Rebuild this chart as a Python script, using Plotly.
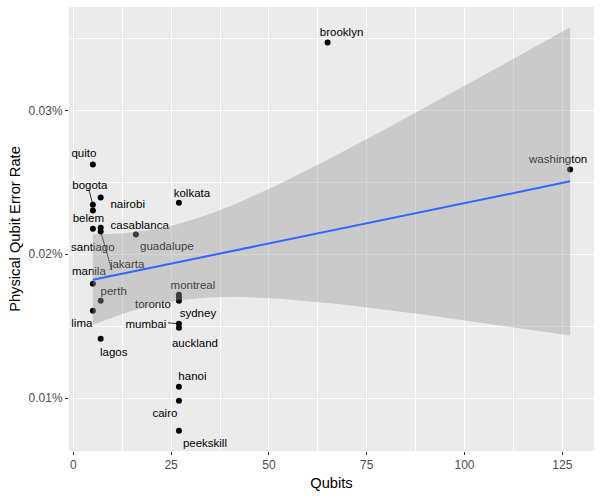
import numpy as np
import plotly.graph_objects as go

# IBM backends: qubit count vs. physical qubit error rate
backends = ["brooklyn", "washington", "quito", "bogota", "belem", "santiago", "manila", "lima",
            "nairobi", "casablanca", "jakarta", "perth", "lagos", "guadalupe",
            "kolkata", "montreal", "toronto", "sydney", "mumbai", "auckland",
            "hanoi", "cairo", "peekskill"]
qubits = [65, 127, 5, 5, 5, 5, 5, 5,
          7, 7, 7, 7, 7, 16,
          27, 27, 27, 27, 27, 27,
          27, 27, 27]
error_rate = [0.0003472, 0.0002588, 0.0002623, 0.0002344, 0.0002303, 0.0002177, 0.0001794, 0.0001607,
              0.0002393, 0.0002184, 0.0002157, 0.0001676, 0.0001412, 0.0002136,
              0.0002358, 0.0001718, 0.0001697, 0.0001676, 0.0001516, 0.0001489,
              0.0001078, 0.0000981, 0.0000772]

# label placement (pixel offsets from the point, right / down), like ggrepel did it
label_offset = {
    "brooklyn": (14, -9), "washington": (-12, -9), "quito": (-9, -10), "bogota": (-3, -19),
    "belem": (-4.5, 9), "santiago": (0, 19), "manila": (-4, -12), "lima": (-11, 13),
    "nairobi": (27, 8), "casablanca": (39, -2), "jakarta": (26.5, 34), "perth": (13, -9),
    "lagos": (13, 14), "guadalupe": (31, 13), "kolkata": (13, -9), "montreal": (14, -9),
    "toronto": (-26, 7), "sydney": (19, 13), "mumbai": (-33, 1), "auckland": (16, 16),
    "hanoi": (13.5, -10), "cairo": (-14, 13), "peekskill": (26, 13),
}
# leader segments end points (pixel offsets from the point)
leader_offset = {"bogota": (-4, -15), "jakarta": (11, 38), "mumbai": (-11, -1)}

W, H = 600, 500
margin = dict(l=69, r=6, t=7, b=49)
plot_w = W - margin["l"] - margin["r"]
plot_h = H - margin["t"] - margin["b"]

# linear fit with 95% confidence band (geom_smooth(method = "lm"))
x = np.array(qubits, dtype=float)
y = np.array(error_rate)
n = len(x)
b1, b0 = np.polyfit(x, y, 1)
xs = np.linspace(x.min(), x.max(), 80)
fit = b0 + b1 * xs
resid = y - (b0 + b1 * x)
s = np.sqrt((resid ** 2).sum() / (n - 2))
se = s * np.sqrt(1 / n + (xs - x.mean()) ** 2 / ((x - x.mean()) ** 2).sum())
t975 = 2.0796  # qt(0.975, df = 21)
lo, hi = fit - t975 * se, fit + t975 * se

xspan = x.max() - x.min()
xrange = [x.min() - 0.05 * xspan, x.max() + 0.05 * xspan]
ymin, ymax = min(y.min(), lo.min()), max(y.max(), hi.max())
yspan = ymax - ymin
yrange = [ymin - 0.05 * yspan, ymax + 0.05 * yspan]

ux = (xrange[1] - xrange[0]) / plot_w
uy = (yrange[1] - yrange[0]) / plot_h

lab_x = [q + label_offset[b][0] * ux for b, q in zip(backends, qubits)]
lab_y = [e - label_offset[b][1] * uy for b, e in zip(backends, error_rate)]

font = "Liberation Sans, Arial, sans-serif"

fig = go.Figure()

fig.add_trace(go.Scatter(
    x=qubits, y=error_rate, mode="markers",
    marker=dict(color="black", size=6),
    hoverinfo="skip", showlegend=False
))

for b, q, e in zip(backends, qubits, error_rate):
    if b in leader_offset:
        dx, dy = leader_offset[b]
        fig.add_trace(go.Scatter(
            x=[q, q + dx * ux], y=[e, e - dy * uy], mode="lines",
            line=dict(color="black", width=0.8),
            hoverinfo="skip", showlegend=False
        ))

fig.add_trace(go.Scatter(
    x=lab_x, y=lab_y, mode="text", text=backends,
    textposition="middle center", cliponaxis=False,
    textfont=dict(family=font, size=11.5, color="black"),
    hoverinfo="skip", showlegend=False
))

# ribbon drawn over the labels, as in the ggplot layer order
fig.add_trace(go.Scatter(
    x=np.concatenate([xs, xs[::-1]]), y=np.concatenate([hi, lo[::-1]]),
    fill="toself", fillcolor="rgba(153,153,153,0.4)",
    mode="lines", line=dict(width=0),
    hoverinfo="skip", showlegend=False
))

fig.add_trace(go.Scatter(
    x=xs, y=fit, mode="lines",
    line=dict(color="#3366FF", width=2),
    hoverinfo="skip", showlegend=False
))

axis_common = dict(
    showgrid=True, gridcolor="white", gridwidth=1.1,
    zeroline=False, showline=False, automargin=False,
    ticks="outside", ticklen=3, tickwidth=1, tickcolor="#333333",
    tickfont=dict(family=font, size=12, color="#4D4D4D"),
)

fig.update_layout(
    width=W, height=H,
    margin=margin,
    paper_bgcolor="white",
    plot_bgcolor="#EBEBEB",
    font=dict(family=font),
    xaxis=dict(
        range=xrange, tick0=0, dtick=25,
        minor=dict(dtick=12.5, showgrid=True, gridcolor="white", gridwidth=0.5),
        title=dict(text="Qubits", font=dict(family=font, size=14.7, color="black"), standoff=6),
        **axis_common
    ),
    yaxis=dict(
        range=yrange, tick0=0, dtick=0.0001, tickformat=".2%",
        minor=dict(dtick=0.00005, showgrid=True, gridcolor="white", gridwidth=0.5),
        title=dict(text="Physical Qubit Error Rate", font=dict(family=font, size=14.7, color="black"),
                   standoff=4),
        **axis_common
    ),
)

# the page's default body margin would push the 600x500 figure off the window
fig.write_html("out.html", config={"displayModeBar": False},
               post_script="document.body.style.margin = '0';")
